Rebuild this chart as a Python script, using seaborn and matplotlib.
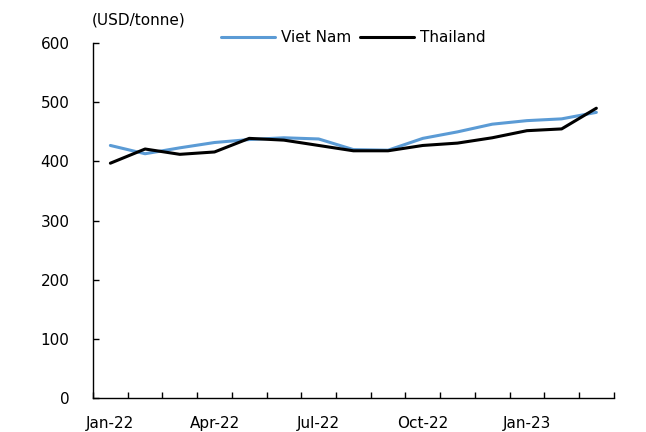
import numpy as np
import pandas as pd
import seaborn as sns
import matplotlib
matplotlib.use("Agg")
import matplotlib.pyplot as plt

months = ["Jan-22", "Feb-22", "Mar-22", "Apr-22", "May-22", "Jun-22", "Jul-22", "Aug-22",
          "Sep-22", "Oct-22", "Nov-22", "Dec-22", "Jan-23", "Feb-23", "Mar-23"]
viet_nam = [427, 413, 423, 432, 437, 440, 438, 420, 419, 439, 450, 463, 469, 472, 483]
thailand = [397, 421, 412, 416, 439, 436, 427, 418, 418, 427, 431, 440, 452, 455, 490]
label_months = ["Jan-22", "Apr-22", "Jul-22", "Oct-22", "Jan-23"]

df = pd.DataFrame({"idx": range(len(months)), "Viet Nam": viet_nam, "Thailand": thailand})
long = df.melt(id_vars="idx", var_name="series", value_name="price")

sns.set_style("white")
plt.rcParams["font.family"] = ["DejaVu Sans"]
plt.rcParams["text.color"] = "black"
plt.rcParams["xtick.color"] = "black"
plt.rcParams["ytick.color"] = "black"

fig = plt.figure(figsize=(6.46, 4.32), dpi=100)
ax = fig.add_axes([0.144, 0.079, 0.806, 0.821])

sns.lineplot(data=long, x="idx", y="price", hue="series",
             palette={"Viet Nam": "#5b9bd5", "Thailand": "#000000"},
             linewidth=2.2, ax=ax, legend=True)

ax.set_xlim(-0.5, len(months) - 0.5)
ax.set_ylim(0, 600)
ax.set_yticks(range(0, 601, 100))
ax.set_xticks(np.arange(-0.5, len(months), 1.0))
ax.set_xticklabels([])
ax.set_xticks([months.index(m) for m in label_months], minor=True)
ax.set_xticklabels(label_months, minor=True)
ax.tick_params(axis="x", which="major", bottom=True, direction="in", length=4, width=1, color="black")
ax.tick_params(axis="x", which="minor", bottom=True, direction="in", length=0, labelsize=11, pad=13)
ax.tick_params(axis="y", left=True, direction="in", length=4, width=1, color="black", labelsize=11, pad=17)
ax.set_xlabel("")
ax.set_ylabel("")

for s in ["top", "right"]:
    ax.spines[s].set_visible(False)
for s in ["left", "bottom"]:
    ax.spines[s].set_color("black")
    ax.spines[s].set_linewidth(1)

ax.legend(loc="upper center", bbox_to_anchor=(0.5, 1.075), ncol=2, frameon=False,
          fontsize=11, handlelength=3.5, columnspacing=0.6, handletextpad=0.4)

fig.text(92 / 646, 1 - 20 / 432, "(USD/tonne)", fontsize=11, va="center", ha="left")

fig.savefig("out.png", dpi=100)
